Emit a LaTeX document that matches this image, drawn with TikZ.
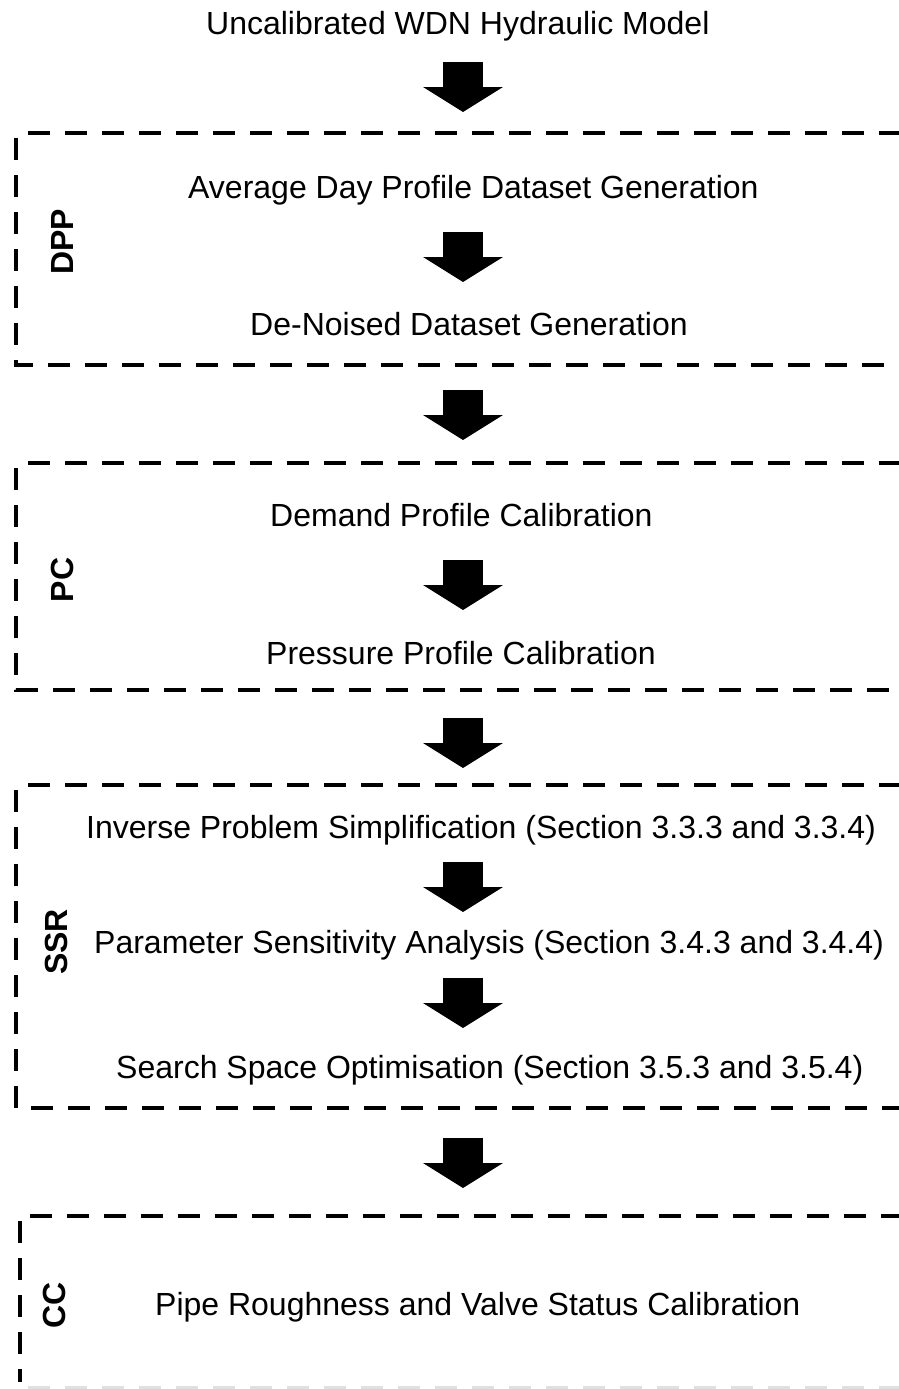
\documentclass[tikz,border=0pt]{standalone}
\usepackage{fontspec}
\setmainfont{Liberation Sans}
\usetikzlibrary{arrows.meta,positioning}

\begin{document}
\begin{tikzpicture}[
		x=1pt, y=-1pt,
		font=\fontsize{32pt}{38pt}\selectfont,
		txt/.style={anchor=base west, inner sep=0pt},
		lbl/.style={rotate=90, inner sep=0pt, font=\fontsize{32pt}{38pt}\selectfont\bfseries},
		grp/.style={line width=4pt, dash pattern=on 22pt off 15pt},
		blk/.style={line width=40pt, -{Triangle[length=25pt, width=80pt, line width=0pt]}}
	]
	\useasboundingbox (0,0) rectangle (899,1389);

	% stages
	\node[txt] (title) at (206,35) {Uncalibrated WDN Hydraulic Model};
	\node[txt] (avg) at (188,198) {Average Day Profile Dataset Generation};
	\node[txt] (denoise) at (250,335) {De-Noised Dataset Generation};
	\node[txt] (demand) at (270,526) {Demand Profile Calibration};
	\node[txt] (pressure) at (266,664) {Pressure Profile Calibration};
	\node[txt] (inverse) at (86,838) {Inverse Problem Simplification (Section 3.3.3 and 3.3.4)};
	\node[txt] (sens) at (94,953) {Parameter Sensitivity Analysis (Section 3.4.3 and 3.4.4)};
	\node[txt] (search) at (116,1078) {Search Space Optimisation (Section 3.5.3 and 3.5.4)};
	\node[txt] (pipe) at (155,1315) {Pipe Roughness and Valve Status Calibration};

	% group labels
	\node[lbl] (ldpp) at (62,242) {DPP};
	\node[lbl] (lpc) at (62,580) {PC};
	\node[lbl] (lssr) at (56,942) {SSR};
	\node[lbl] (lcc) at (54,1305) {CC};

	% group frames (open on the right)
	\draw[grp] (28,133) -- (899,133);
	\draw[grp] (16,138) -- (16,365) -- (899,365);
	\draw[grp] (28,463) -- (899,463);
	\draw[grp] (16,468) -- (16,690) -- (899,690);
	\draw[grp] (28,785) -- (899,785);
	\draw[grp] (16,790) -- (16,1108) -- (899,1108);
	\draw[grp] (30,1216) -- (899,1216);
	\draw[grp] (20,1221) -- (20,1382);
	\draw[grp, black!12] (28,1388) -- (899,1388);

	% block arrows
	\coordinate (a1s) at (463,62);   \coordinate (a1e) at (463,112);
	\coordinate (a2s) at (463,232);  \coordinate (a2e) at (463,282);
	\coordinate (a3s) at (463,390);  \coordinate (a3e) at (463,440);
	\coordinate (a4s) at (463,560);  \coordinate (a4e) at (463,610);
	\coordinate (a5s) at (463,718);  \coordinate (a5e) at (463,768);
	\coordinate (a6s) at (463,862);  \coordinate (a6e) at (463,912);
	\coordinate (a7s) at (463,978);  \coordinate (a7e) at (463,1028);
	\coordinate (a8s) at (463,1138); \coordinate (a8e) at (463,1188);

	\foreach \i in {1,...,8}
		\draw[blk] (a\i s) -- (a\i e);
\end{tikzpicture}
\end{document}
